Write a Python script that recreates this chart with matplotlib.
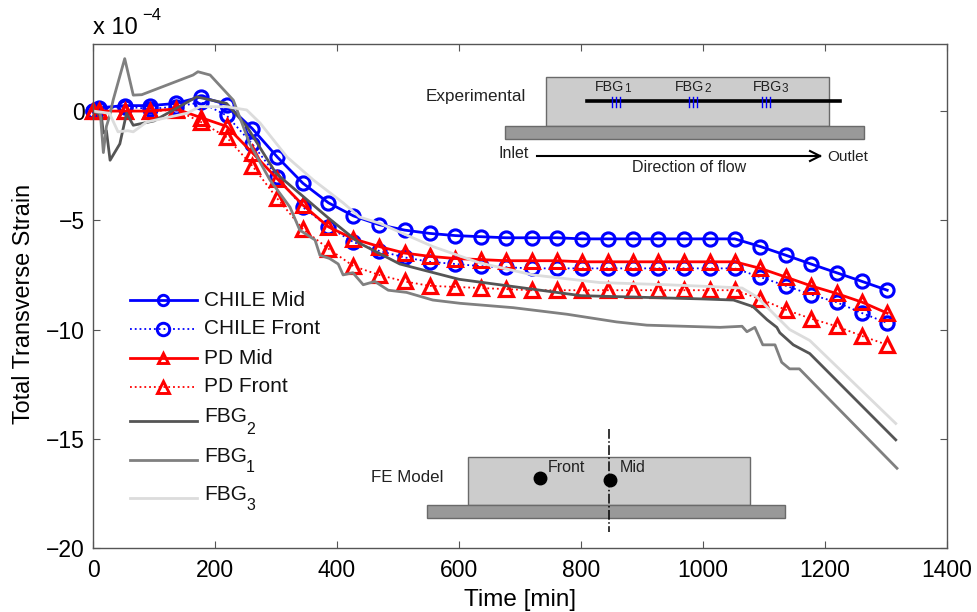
import matplotlib
matplotlib.use('Agg')
import matplotlib.pyplot as plt
from matplotlib.patches import Rectangle
from matplotlib.lines import Line2D

plt.rcParams['font.family'] = ['Liberation Sans', 'DejaVu Sans']

W = 977
H = 612

t_model = [0, 10, 52, 94, 136, 177, 219, 261, 302, 344, 386, 427, 469, 511, 552, 594, 636,
           677, 719, 761, 802, 844, 886, 927, 969, 1011, 1052, 1094, 1136, 1177, 1219, 1261, 1302]
chile_mid = [0, .15, .25, .25, .35, .65, .3, -.8, -2.1, -3.3, -4.2, -4.8, -5.2, -5.45, -5.6, -5.7, -5.75,
             -5.8, -5.8, -5.8, -5.85, -5.85, -5.85, -5.85, -5.85, -5.85, -5.85, -6.2, -6.6, -7.0, -7.4, -7.8, -8.2]
chile_front = [0, .1, .2, .1, .2, .4, -.2, -1.5, -3.0, -4.4, -5.3, -6.0, -6.4, -6.7, -6.9, -7.0, -7.1,
               -7.15, -7.2, -7.2, -7.2, -7.2, -7.2, -7.2, -7.2, -7.2, -7.2, -7.6, -8.0, -8.4, -8.75, -9.25, -9.7]
pd_mid = [0, 0, 0, 0, .1, -.3, -.7, -1.9, -3.1, -4.3, -5.3, -5.85, -6.2, -6.5, -6.65, -6.75, -6.8,
          -6.85, -6.85, -6.85, -6.9, -6.9, -6.9, -6.9, -6.9, -6.9, -6.9, -7.2, -7.6, -8.0, -8.35, -8.75, -9.25]
pd_front = [0, 0, 0, 0, .05, -.5, -1.2, -2.5, -4.0, -5.4, -6.3, -7.1, -7.5, -7.8, -8.0, -8.05, -8.1,
            -8.15, -8.2, -8.2, -8.2, -8.2, -8.2, -8.2, -8.2, -8.2, -8.2, -8.6, -9.1, -9.5, -9.85, -10.3, -10.7]

t_fbg2 = [0, 8, 14, 17, 22, 28, 44, 55, 66, 100, 170, 219, 252, 300, 384, 437, 503, 600, 800, 1000,
          1050, 1082, 1105, 1121, 1126, 1148, 1175, 1316]
fbg2 = [0, -.1, -.3, -1.0, -.9, -2.25, -1.5, -.1, -.65, -.45, .65, .35, -.7, -2.85, -4.85, -6.05, -7.0, -7.7,
        -8.45, -8.6, -8.65, -8.95, -9.55, -9.9, -10.15, -10.7, -11.1, -15.05]

t_fbg1 = [0, 12, 17, 22, 27, 33, 52, 66, 80, 164, 172, 192, 230, 257, 290, 323, 339, 364, 372, 388, 402, 410,
          426, 443, 462, 484, 514, 557, 602, 689, 777, 858, 908, 1028, 1064, 1072, 1085, 1098, 1118, 1129, 1142,
          1158, 1318]
fbg1 = [0, -.1, -1.9, -.7, -.25, .5, 2.4, .73, .75, 1.65, 1.8, 1.65, .5, -1.5, -3.15, -4.4, -5.45, -5.9, -6.6,
        -6.75, -7.0, -7.5, -7.4, -7.95, -7.8, -8.2, -8.3, -8.65, -8.8, -9.0, -9.3, -9.65, -9.8, -9.9, -9.85,
        -10.1, -9.9, -10.7, -10.7, -11.5, -11.8, -11.8, -16.35]

t_fbg3 = [0, 27, 41, 57, 66, 88, 154, 175, 219, 252, 274, 318, 361, 410, 437, 471, 557, 634, 721, 831, 941,
          1028, 1064, 1088, 1142, 1175, 1316]
fbg3 = [0, -.1, -.95, -.9, -.95, -.5, -.1, .2, .2, .05, -.55, -2.1, -3.15, -4.2, -4.85, -5.15, -6.2, -6.95,
        -7.5, -7.85, -7.95, -8.05, -8.1, -8.5, -10.0, -10.5, -14.3]

x_ticks = [0, 200, 400, 600, 800, 1000, 1200, 1400]
y_ticks = [-20, -15, -10, -5, 0]
y_labels = ['\u221220', '\u221215', '\u221210', '\u22125', '0']


def fx(x):
    return x / W


def fy(y):
    return 1 - y / H


def box(x0, y0, x1, y1, color):
    fig.add_artist(Rectangle((fx(x0), fy(y1)), (x1 - x0) / W, (y1 - y0) / H, transform=fig.transFigure,
                             facecolor=color, edgecolor='#6a6a6a', lw=1.0))


def line(x0, y0, x1, y1, **kw):
    fig.add_artist(Line2D([fx(x0), fx(x1)], [fy(y0), fy(y1)], transform=fig.transFigure, **kw))


def label(x, y, s, size=11.5, ha='left', color='#222222'):
    fig.text(fx(x), fy(y), s, fontsize=size, ha=ha, va='center', color=color)


fig = plt.figure(figsize=(W / 100, H / 100), dpi=100)
ax = fig.add_axes([93 / W, 1 - 548 / H, (947 - 93) / W, (548 - 44) / H])

blue = '#0000ff'
red = '#ff0000'
dark = '#555555'
mid = '#808080'
light = '#dcdcdc'
style_cm = dict(ls='-', color=blue, lw=2, marker='o', ms=9.5, mfc='none', mew=2.2)
style_cf = dict(ls=':', color=blue, lw=1.3, marker='o', ms=9.5, mfc='none', mew=2.3)
style_pm = dict(ls='-', color=red, lw=2, marker='^', ms=9.5, mfc='none', mew=2.2)
style_pf = dict(ls=':', color=red, lw=1.3, marker='^', ms=9.5, mfc='none', mew=2.3)

ax.plot(t_model, chile_mid, clip_on=False, **style_cm)
ax.plot(t_model, chile_front, clip_on=False, **style_cf)
ax.plot(t_model, pd_mid, clip_on=False, **style_pm)
ax.plot(t_model, pd_front, clip_on=False, **style_pf)
ax.plot(t_fbg2, fbg2, '-', color=dark, lw=2)
ax.plot(t_fbg1, fbg1, '-', color=mid, lw=2)
ax.plot(t_fbg3, fbg3, '-', color=light, lw=2)

ax.set_xlim(0, 1400)
ax.set_ylim(-20, 3.07)
ax.set_xticks(x_ticks)
ax.set_yticks(y_ticks)
ax.set_yticklabels(y_labels)
ax.tick_params(direction='in', top=True, right=True, length=5, width=0.8, color=dark, labelsize=16.5, pad=6)
ax.tick_params(axis='x', pad=8)
for s in ax.spines.values():
    s.set_color(dark)
    s.set_linewidth(1.0)
ax.set_xlabel('Time [min]', fontsize=17.5, labelpad=5)
ax.set_ylabel('Total Transverse Strain', fontsize=16.8, labelpad=8, y=0.485)

label(93, 28, 'x 10', size=17, color='black')
label(142, 15, '\u22124', size=12, color='black')

# legend, drawn by hand because the rows are unevenly spaced
for row_y, style, name in [(300, style_cm, 'CHILE Mid'), (329, style_cf, 'CHILE Front'),
                           (358, style_pm, 'PD Mid'), (387, style_pf, 'PD Front')]:
    line(130, row_y, 197, row_y, color=style['color'], lw=style['lw'], ls=style['ls'])
    fig.add_artist(Line2D([fx(163)], [fy(row_y)], transform=fig.transFigure, marker=style['marker'],
                          ms=7.5 if style['ls'] == '-' else 9, mfc='none', mec=style['color'], mew=2.1))
    label(204, row_y, name, size=15, color='#111111')
for row_y, color, sub in [(421, dark, '2'), (460, mid, '1'), (498, light, '3')]:
    line(130, row_y, 197, row_y, color=color, lw=2)
    label(204, row_y - 4, 'FBG', size=15, color='#111111')
    label(246, row_y + 8, sub, size=11.5, color='#111111')

# experimental sketch
box(546, 77, 829, 126, '#cccccc')
box(505, 126, 864, 139, '#999999')
line(587, 101, 840, 101, color='black', lw=2.6)
for cx, x_name, sub in [(616, 595, '1'), (693, 675, '2'), (766, 753, '3')]:
    for dx in (-4, 0, 4):
        line(cx + dx, 97, cx + dx, 107, color=blue, lw=1.0)
    label(x_name, 87, 'FBG', size=10.3)
    label(x_name + 29, 89, sub, size=8.5)
label(426, 96, 'Experimental', size=12.3)
label(498, 154, 'Inlet')
label(827, 157, 'Outlet', size=11)
label(689, 168, 'Direction of flow', ha='center')
line(537, 156, 820, 156, color='black', lw=1.5)
line(810, 151, 820, 156, color='black', lw=1.5)
line(810, 161, 820, 156, color='black', lw=1.5)

# FE model sketch
box(468, 457, 750, 505, '#cccccc')
box(427, 505, 785, 518, '#999999')
line(609, 429, 609, 532, color='black', lw=1.1, ls='-.')
for cx, cy in [(540, 478), (610, 480)]:
    fig.add_artist(Line2D([fx(cx)], [fy(cy)], transform=fig.transFigure, marker='o', ms=9, color='black'))
label(548, 467, 'Front')
label(620, 467, 'Mid')
label(371, 477, 'FE Model', size=12.2)

fig.savefig('out.png', dpi=100)
